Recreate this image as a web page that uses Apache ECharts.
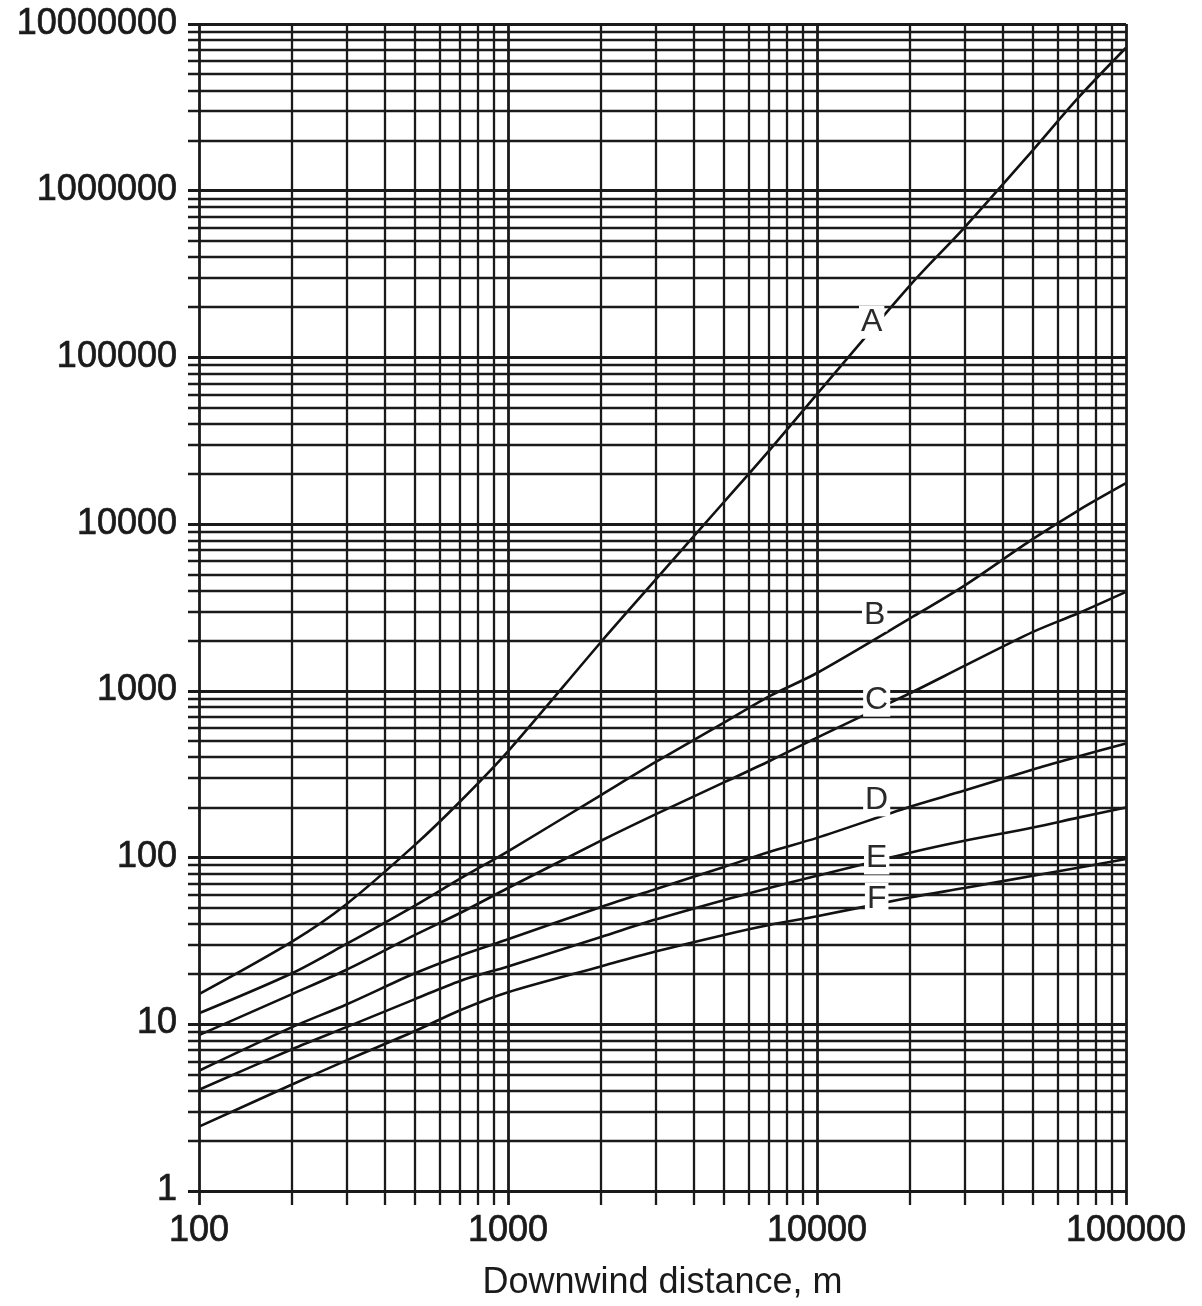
<!DOCTYPE html>
<html><head><meta charset="utf-8">
<script src="https://cdn.jsdelivr.net/npm/echarts@6/dist/echarts.min.js"></script>
<style>html,body{margin:0;padding:0;background:#fff}#c{width:1202px;height:1306px}</style>
</head><body><div id="c"></div>
<script>
// ---- data ----
const distances = [100,200,300,500,700,1000,2000,3000,5000,7000,10000,20000,30000,50000,70000,100000];
const curveA = [15,31,52,118,215,430,1950,4600,13500,27500,60000,270000,600000,1750000,3600000,7200000];
const curveB = [11.5,20,30,51,74,108,235,370,640,920,1270,2700,4250,8100,12000,17500];
const curveC = [8.5,15,21,34,46,65,125,180,280,375,520,960,1400,2240,2900,3900];
const curveD = [5.2,9.5,13,20,25.5,32,50,64,87,107,130,200,250,335,400,480];
const curveE = [4.0,7,9.5,14,18,22,33,42,55,65,77,106,125,150,172,198];
const curveF = [2.4,4.3,6,9,12,15.4,22,27,34,39,44,57,65,77,86,97];
const curveNames = ['A','B','C','D','E','F'];
const xTickLabels = ['100','1000','10000','100000'];
const yTickLabels = ['1','10','100','1000','10000','100000','1000000','10000000'];
const gridMultipliers = [1,2,3,4,5,6,7,8,9];
const xTitle = 'Downwind distance, m';
const labelDistance = 15600;

// ---- layout / style ----
const W = 1202, H = 1306;
const G = {left:199, right:76, top:24, bottom:115};
const EXT_L = 11, EXT_B = 14;
const plotW = W - G.left - G.right, plotH = H - G.top - G.bottom;
const xDec = plotW / 3, yDec = plotH / 7;
const xMinExt = Math.pow(10, 2 - EXT_L / xDec);
const yMinExt = Math.pow(10, 0 - EXT_B / yDec);
const FONT = '"Liberation Sans", Arial, Helvetica, sans-serif';
const INK = '#1a1a1a';

const curves = [curveA, curveB, curveC, curveD, curveE, curveF];
const labelOffsets = [[-5,-2],[-2,-23],[0,-9],[0,-18],[0,-3],[0,-5]];

function interpLog(xs, ys, x) {
  const lx = Math.log10(x);
  for (let i = 0; i < xs.length - 1; i++) {
    const a = Math.log10(xs[i]), b = Math.log10(xs[i+1]);
    if (lx >= a && lx <= b) {
      const t = (lx - a) / (b - a);
      return Math.pow(10, Math.log10(ys[i]) + t * (Math.log10(ys[i+1]) - Math.log10(ys[i])));
    }
  }
  return ys[ys.length-1];
}

// grid line values
const vLines = [], hLines = [];
for (let k = 2; k <= 4; k++) gridMultipliers.forEach(m => vLines.push(m * Math.pow(10, k)));
vLines.push(100000);
for (let k = 0; k <= 6; k++) gridMultipliers.forEach(m => hLines.push(m * Math.pow(10, k)));
hLines.push(10000000);

const isDecade = v => Math.abs(Math.log10(v) - Math.round(Math.log10(v))) < 1e-9;
const lineData = [];
vLines.forEach(v => lineData.push({xAxis: v, lineStyle: {width: isDecade(v) ? 2.8 : 2.3}}));
hLines.forEach(v => lineData.push({yAxis: v, lineStyle: {width: isDecade(v) ? 2.8 : 2.3}}));

const series = [{
  type: 'line', xAxisIndex: 1, yAxisIndex: 1, data: [[100, 1]], symbol: 'none',
  lineStyle: {width: 0}, silent: true, z: 1,
  markLine: {
    silent: true, symbol: ['none','none'], animation: false,
    label: {show: false},
    lineStyle: {color: INK, width: 2.3, type: 'solid'},
    emphasis: {disabled: true},
    data: lineData
  }
}];

curves.forEach((ys, i) => {
  series.push({
    name: curveNames[i], type: 'line', xAxisIndex: 0, yAxisIndex: 0,
    data: distances.map((d, j) => [d, ys[j]]),
    symbol: 'none', smooth: 0.3, z: 3,
    lineStyle: {color: '#111', width: 2.6},
    markPoint: {
      symbol: 'circle', symbolSize: 1, itemStyle: {color: 'rgba(0,0,0,0)'},
      animation: false, silent: true, z: 5,
      label: {
        show: true, position: 'inside', formatter: curveNames[i],
        fontFamily: FONT, fontSize: 32, color: '#2a2a2a',
        backgroundColor: '#fff', padding: [1, 2, 0, 2],
        offset: labelOffsets[i]
      },
      data: [{coord: [labelDistance, interpLog(distances, ys, labelDistance)]}]
    }
  });
});

const tickText = {fontFamily: FONT, fontSize: 36, fontWeight: 'normal', color: '#1a1a1a',
  textBorderColor: '#1a1a1a', textBorderWidth: 0.7};

const chart = echarts.init(document.getElementById('c'), null, {renderer: 'canvas'});
chart.setOption({
  backgroundColor: '#fff',
  animation: false,
  grid: [
    {left: G.left, right: G.right, top: G.top, bottom: G.bottom, containLabel: false},
    {left: G.left - EXT_L, right: G.right, top: G.top, bottom: G.bottom - EXT_B, containLabel: false}
  ],
  xAxis: [
    {type: 'log', logBase: 10, gridIndex: 0, min: 100, max: 100000, interval: 1,
     axisLine: {show: false}, axisTick: {show: false}, splitLine: {show: false},
     axisLabel: Object.assign({margin: 23,
       formatter: v => xTickLabels[Math.round(Math.log10(v)) - 2] || ''}, tickText),
     name: xTitle, nameLocation: 'middle', nameGap: 75,
     nameTextStyle: {fontFamily: FONT, fontSize: 36, color: '#1a1a1a'}},
    {type: 'log', logBase: 10, gridIndex: 1, min: xMinExt, max: 100000,
     show: false, splitLine: {show: false}}
  ],
  yAxis: [
    {type: 'log', logBase: 10, gridIndex: 0, min: 1, max: 10000000, interval: 1,
     axisLine: {show: false}, axisTick: {show: false}, splitLine: {show: false},
     axisLabel: Object.assign({margin: 22,
       formatter: v => yTickLabels[Math.round(Math.log10(v))] || ''}, tickText)},
    {type: 'log', logBase: 10, gridIndex: 1, min: yMinExt, max: 10000000,
     show: false, splitLine: {show: false}}
  ],
  series: series
});
</script></body></html>
